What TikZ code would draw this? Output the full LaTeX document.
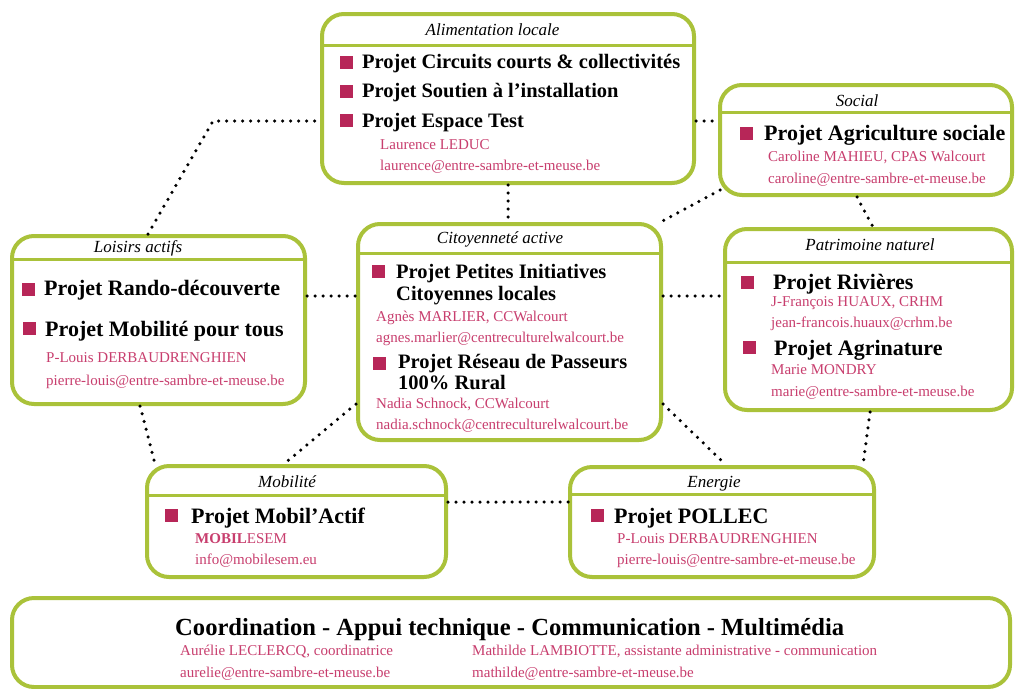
\documentclass[tikz,border=0pt]{standalone}
\usepackage{fontspec}
\setmainfont{Liberation Serif}
\definecolor{boxgreen}{RGB}{170,194,58}
\definecolor{projpink}{RGB}{183,38,88}
\definecolor{namepink}{RGB}{200,62,110}

\begin{document}
\begin{tikzpicture}[x=1pt,y=-1pt,
  box/.style={rectangle,draw=boxgreen,line width=4pt,rounded corners=22pt,fill=white,inner sep=0pt},
  headline/.style={draw=boxgreen,line width=3pt},
  theme/.style={anchor=base,yshift=-5.5pt,inner sep=0pt,font=\fontsize{17}{17}\selectfont\itshape},
  puce/.style={rectangle,fill=projpink,minimum size=13pt,inner sep=0pt},
  projet/.style={anchor=base west,yshift={-0.32*#1pt},inner sep=0pt,font=\fontsize{#1}{#1}\selectfont\bfseries},
  projet/.default=22,
  contact/.style={anchor=base west,yshift=-4.5pt,inner sep=0pt,text=namepink,font=\fontsize{15}{15}\selectfont},
  dots/.style={line width=3.5pt,line cap=round,dash pattern=on 0pt off 8pt}]
\useasboundingbox (0,0) rectangle (1016,688);
\fill[white] (0,0) rectangle (1016,688);

% les cadres
\node[box,minimum width=372pt,minimum height=169pt] (alim) at (508,98.5) {};
\node[box,minimum width=292pt,minimum height=110pt] (social) at (866,140) {};
\node[box,minimum width=293pt,minimum height=168pt] (loisirs) at (158.5,320) {};
\node[box,minimum width=303pt,minimum height=216pt] (citoy) at (509.5,332) {};
\node[box,minimum width=287pt,minimum height=181pt] (patri) at (868.5,319.5) {};
\node[box,minimum width=299pt,minimum height=111pt] (mobil) at (296.5,521.5) {};
\node[box,minimum width=304pt,minimum height=110pt] (energ) at (722,522) {};
\node[box,minimum width=998pt,minimum height=89pt] (coord) at (511,642.5) {};

% lignes sous les titres
\draw[headline] (alim.west |- 0,45) -- (alim.east |- 0,45);
\draw[headline] (social.west |- 0,112) -- (social.east |- 0,112);
\draw[headline] (loisirs.west |- 0,259) -- (loisirs.east |- 0,259);
\draw[headline] (citoy.west |- 0,253) -- (citoy.east |- 0,253);
\draw[headline] (patri.west |- 0,262) -- (patri.east |- 0,262);
\draw[headline] (mobil.west |- 0,495) -- (mobil.east |- 0,495);
\draw[headline] (energ.west |- 0,494) -- (energ.east |- 0,494);

% Alimentation locale
\node[theme] (t-alim) at (492.5,30) {Alimentation locale};
\node[puce] (p-circ) at (346,62) {};
\node[projet=20.5] (circ) at (362,62) {Projet Circuits courts \& collectivités};
\node[puce] (p-sout) at (346,91) {};
\node[projet=20.5] (sout) at (362,91) {Projet Soutien à l’installation};
\node[puce] (p-esp) at (346,120) {};
\node[projet=20.5] (esp) at (362,121) {Projet Espace Test};
\node[contact] (c-leduc) at (380,145) {Laurence LEDUC};
\node[contact] (m-leduc) at (380,166) {laurence@entre-sambre-et-meuse.be};

% Social
\node[theme] (t-social) at (857,101) {Social};
\node[puce] (p-agri) at (746,133) {};
\node[projet] (agri) at (764,133) {Projet Agriculture sociale};
\node[contact] (c-mahieu) at (768,157) {Caroline MAHIEU, CPAS Walcourt};
\node[contact] (m-mahieu) at (768,179) {caroline@entre-sambre-et-meuse.be};

% Loisirs actifs
\node[theme] (t-loisirs) at (138,247) {Loisirs actifs};
\node[puce] (p-rando) at (28,289) {};
\node[projet] (rando) at (44,288) {Projet Rando-découverte};
\node[puce] (p-mobt) at (29,328) {};
\node[projet] (mobt) at (45,329) {Projet Mobilité pour tous};
\node[contact] (c-pl1) at (46,358) {P-Louis DERBAUDRENGHIEN};
\node[contact] (m-pl1) at (46,381) {pierre-louis@entre-sambre-et-meuse.be};

% Citoyenneté active
\node[theme] (t-citoy) at (500,238) {Citoyenneté active};
\node[puce] (p-pic) at (378,271) {};
\node[projet=20.5] (pic) at (396,272) {Projet Petites Initiatives};
\node[projet=20.5] (pic2) at (396,294) {Citoyennes locales};
\node[contact] (c-marlier) at (376,317) {Agnès MARLIER, CCWalcourt};
\node[contact] (m-marlier) at (376,338) {agnes.marlier@centreculturelwalcourt.be};
\node[puce] (p-pass) at (379,363) {};
\node[projet=20.5] (pass) at (398,362) {Projet Réseau de Passeurs};
\node[projet=20.5] (pass2) at (398,383) {100\% Rural};
\node[contact] (c-schnock) at (376,404) {Nadia Schnock, CCWalcourt};
\node[contact] (m-schnock) at (376,425) {nadia.schnock@centreculturelwalcourt.be};

% Patrimoine naturel
\node[theme] (t-patri) at (870,245) {Patrimoine naturel};
\node[puce] (p-riv) at (747,282) {};
\node[projet] (riv) at (773,282) {Projet Rivières};
\node[contact] (c-huaux) at (771,302) {J-François HUAUX, CRHM};
\node[contact] (m-huaux) at (771,323) {jean-francois.huaux@crhm.be};
\node[puce] (p-agrin) at (749,347) {};
\node[projet] (agrin) at (774,348) {Projet Agrinature};
\node[contact] (c-mondry) at (771,370) {Marie MONDRY};
\node[contact] (m-mondry) at (771,392) {marie@entre-sambre-et-meuse.be};

% Mobilité
\node[theme] (t-mobil) at (287,482) {Mobilité};
\node[puce] (p-mact) at (171,515) {};
\node[projet] (mact) at (191,516) {Projet Mobil’Actif};
\node[contact] (c-mobsem) at (195,539) {{\bfseries MOBIL}ESEM};
\node[contact] (m-mobsem) at (195,560) {info@mobilesem.eu};

% Energie
\node[theme] (t-energ) at (714,482) {Energie};
\node[puce] (p-pollec) at (597,515) {};
\node[projet] (pollec) at (614,516) {Projet POLLEC};
\node[contact] (c-pl2) at (617,539) {P-Louis DERBAUDRENGHIEN};
\node[contact] (m-pl2) at (617,560) {pierre-louis@entre-sambre-et-meuse.be};

% Coordination
\node[projet=24.6] (coordt) at (175,628) {Coordination - Appui technique - Communication - Multimédia};
\node[contact] (c-leclercq) at (180,651) {Aurélie LECLERCQ, coordinatrice};
\node[contact] (m-leclercq) at (180,673) {aurelie@entre-sambre-et-meuse.be};
\node[contact] (c-lambiotte) at (472,651) {Mathilde LAMBIOTTE, assistante administrative - communication};
\node[contact] (m-lambiotte) at (472,673) {mathilde@entre-sambre-et-meuse.be};

% liens en pointillés
\coordinate (coude) at (213,121);
\draw[dots] ([xshift=-10.5pt]loisirs.north) -- (coude) -- (coude -| alim.west);
\draw[dots] (alim.south) -- (alim.south |- citoy.north);
\draw[dots] ([yshift=-22.5pt]alim.east) -- ([yshift=19pt]social.west);
\draw[dots] ([xshift=2pt,yshift=7pt]social.south west) -- ([xshift=-6pt,yshift=-2pt]citoy.north east);
\draw[dots] ([xshift=-9pt]social.south) -- ([xshift=4.5pt]patri.north);
\draw[dots] ([yshift=24pt]loisirs.east) -- ([yshift=36pt]citoy.west);
\draw[dots] ([yshift=36pt]citoy.east) -- ([yshift=23.5pt]patri.west);
\draw[dots] ([xshift=-18.5pt]loisirs.south) -- ([xshift=-141.5pt]mobil.north);
\draw[dots] ([yshift=-72pt]citoy.west) -- ([xshift=-12.5pt]mobil.north);
\draw[dots] ([yshift=-72pt]citoy.east) -- ([xshift=4pt]energ.north);
\draw[dots] ([xshift=1.5pt]patri.south) -- ([xshift=-13pt]energ.north east);
\draw[dots] ([yshift=19.5pt]mobil.east) -- ([yshift=20pt]energ.west);
\end{tikzpicture}
\end{document}
